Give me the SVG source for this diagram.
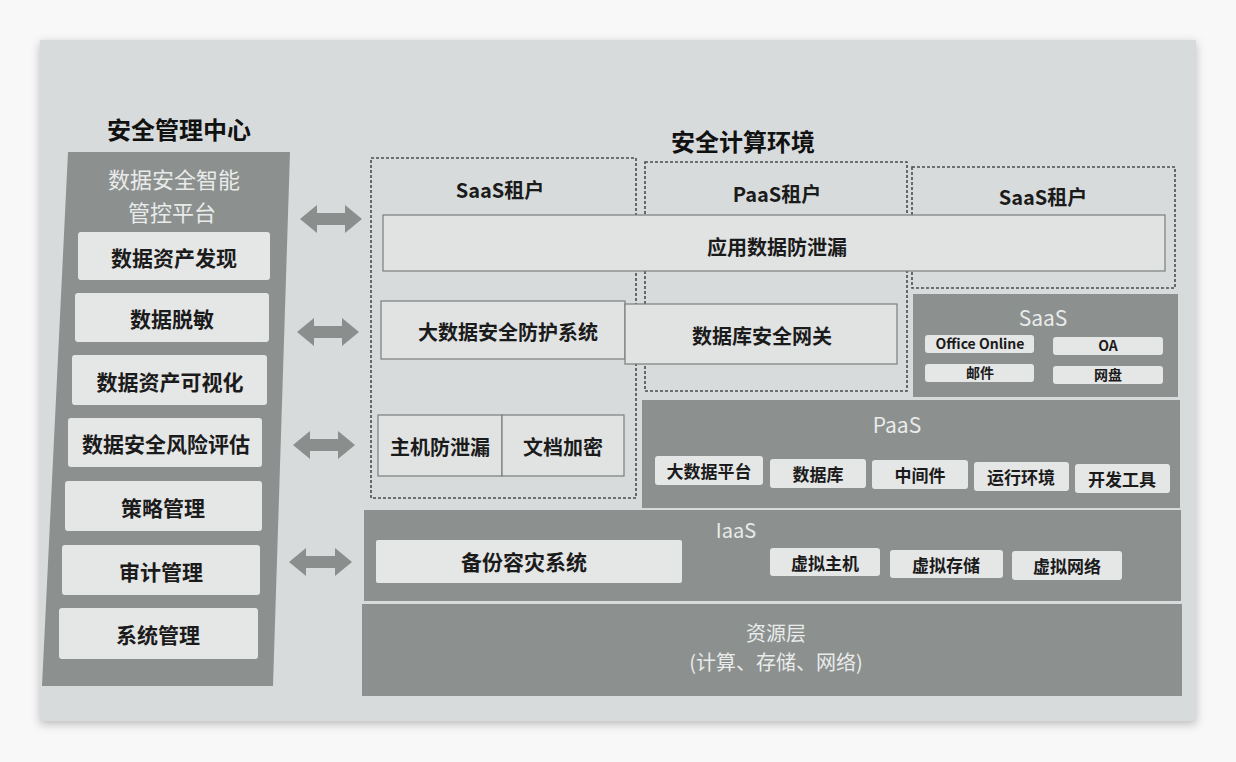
<svg xmlns="http://www.w3.org/2000/svg" width="1236" height="762" viewBox="0 0 1236 762">
<style>
  .cjk { font-family: "Noto Sans CJK SC", "Noto Sans", "Liberation Sans", sans-serif; }
  .title { font-size: 24px; font-weight: 700; fill: #111; text-anchor: middle; }
  .lbl { font-weight: 700; fill: #1b1b1b; text-anchor: middle; dominant-baseline: central; }
  .light { font-weight: 400; fill: #e9ebea; text-anchor: middle; dominant-baseline: central; }
  .panel { fill: #8c918f; }
  .item { fill: #e5e6e6; }
  .box { fill: #e1e3e3; stroke: #7a7d7c; stroke-width: 1.2; }
  .dash { fill: none; stroke: #4a4d4c; stroke-width: 1.6; stroke-dasharray: 3 2; }
  .arrow { fill: #8a8f8d; }
</style>
<defs>
  <filter id="sh" x="-5%" y="-5%" width="110%" height="110%">
    <feDropShadow dx="0" dy="3" stdDeviation="5" flood-color="#000" flood-opacity="0.25"/>
  </filter>
</defs>
<rect x="0" y="0" width="1236" height="762" fill="#f8f8f8"/>
<rect x="40" y="40" width="1156" height="681" fill="#d8dbdc" filter="url(#sh)"/>

<g id="titles" class="cjk">
  <text class="title" x="179" y="139">安全管理中心</text>
  <text class="title" x="743" y="151">安全计算环境</text>
</g>

<g id="mgmt-center" class="cjk">
  <polygon class="panel" points="68,152 290,152 273,686 42,686"/>
  <text class="light" x="174" y="178" font-size="22">数据安全智能</text>
  <text class="light" x="172" y="211" font-size="22">管控平台</text>
</g>
<g id="n-zcfx" class="cjk"><rect class="item" x="78" y="232" width="192" height="48" rx="3"/><text class="lbl" x="174" y="257" font-size="21">数据资产发现</text></g>
<g id="n-tm" class="cjk"><rect class="item" x="75" y="293" width="194" height="49" rx="3"/><text class="lbl" x="172" y="318" font-size="21">数据脱敏</text></g>
<g id="n-kshh" class="cjk"><rect class="item" x="72" y="355" width="195" height="50" rx="3"/><text class="lbl" x="170" y="381" font-size="21">数据资产可视化</text></g>
<g id="n-fxpg" class="cjk"><rect class="item" x="68" y="418" width="194" height="49" rx="3"/><text class="lbl" x="166" y="443" font-size="21">数据安全风险评估</text></g>
<g id="n-cl" class="cjk"><rect class="item" x="65" y="481" width="197" height="50" rx="3"/><text class="lbl" x="163" y="507" font-size="21">策略管理</text></g>
<g id="n-sj" class="cjk"><rect class="item" x="62" y="545" width="198" height="50" rx="3"/><text class="lbl" x="161" y="571" font-size="21">审计管理</text></g>
<g id="n-xt" class="cjk"><rect class="item" x="59" y="608" width="199" height="51" rx="3"/><text class="lbl" x="158" y="634" font-size="21">系统管理</text></g>

<g id="connectors">
  <path class="arrow" d="M300,219 L317,205 L317,213 L345,213 L345,205 L362,219 L345,233 L345,225 L317,225 L317,233 Z"/>
  <path class="arrow" d="M297,332 L314,318 L314,326 L342,326 L342,318 L359,332 L342,346 L342,338 L314,338 L314,346 Z"/>
  <path class="arrow" d="M293,445 L310,431 L310,439 L338,439 L338,431 L355,445 L338,459 L338,451 L310,451 L310,459 Z"/>
  <path class="arrow" d="M289,562 L306,548 L306,556 L335,556 L335,548 L352,562 L335,576 L335,568 L306,568 L306,576 Z"/>
</g>

<g id="tenant-saas-left" class="cjk">
  <rect class="dash" x="371" y="158" width="265" height="340"/>
  <text class="lbl" x="500" y="189" font-size="20">SaaS租户</text>
</g>
<g id="tenant-paas" class="cjk">
  <rect class="dash" x="645" y="162" width="262" height="229"/>
  <text class="lbl" x="777" y="193" font-size="20">PaaS租户</text>
</g>
<g id="tenant-saas-right" class="cjk">
  <rect class="dash" x="912" y="167" width="263" height="121"/>
  <text class="lbl" x="1043" y="196" font-size="20">SaaS租户</text>
</g>

<g id="n-yysjfxl" class="cjk"><rect class="box" x="383" y="215" width="782" height="56"/><text class="lbl" x="777" y="246" font-size="20">应用数据防泄漏</text></g>
<g id="n-dsjaq" class="cjk"><rect class="box" x="381" y="301" width="244" height="58"/><text class="lbl" x="508" y="331" font-size="20">大数据安全防护系统</text></g>
<g id="n-sjkwg" class="cjk"><rect class="box" x="625" y="304" width="272" height="60"/><text class="lbl" x="762" y="335" font-size="20">数据库安全网关</text></g>
<g id="n-zjfxl" class="cjk"><rect class="box" x="378" y="415" width="124" height="61"/><text class="lbl" x="440" y="446" font-size="20">主机防泄漏</text></g>
<g id="n-wdjm" class="cjk"><rect class="box" x="502" y="415" width="122" height="61"/><text class="lbl" x="563" y="446" font-size="20">文档加密</text></g>

<g id="layer-saas" class="cjk">
  <rect class="panel" x="913" y="294" width="265" height="103"/>
  <text class="light" x="1043" y="317" font-size="21">SaaS</text>
  <rect class="item" x="925" y="335" width="109" height="18" rx="3"/><text class="lbl" x="980" y="343" font-size="14">Office Online</text>
  <rect class="item" x="1053" y="337" width="110" height="18" rx="3"/><text class="lbl" x="1108" y="345" font-size="14">OA</text>
  <rect class="item" x="925" y="364" width="109" height="18" rx="3"/><text class="lbl" x="980" y="372" font-size="14">邮件</text>
  <rect class="item" x="1053" y="366" width="110" height="18" rx="3"/><text class="lbl" x="1108" y="374" font-size="14">网盘</text>
</g>

<g id="layer-paas" class="cjk">
  <rect class="panel" x="642" y="400" width="538" height="108"/>
  <text class="light" x="897" y="424" font-size="21">PaaS</text>
  <rect class="item" x="655" y="456" width="108" height="29" rx="3"/><text class="lbl" x="709" y="470" font-size="17">大数据平台</text>
  <rect class="item" x="770" y="459" width="96" height="29" rx="3"/><text class="lbl" x="818" y="473" font-size="17">数据库</text>
  <rect class="item" x="872" y="460" width="96" height="29" rx="3"/><text class="lbl" x="920" y="474" font-size="17">中间件</text>
  <rect class="item" x="974" y="462" width="95" height="29" rx="3"/><text class="lbl" x="1021" y="476" font-size="17">运行环境</text>
  <rect class="item" x="1075" y="464" width="95" height="29" rx="3"/><text class="lbl" x="1122" y="478" font-size="17">开发工具</text>
</g>

<g id="layer-iaas" class="cjk">
  <rect class="panel" x="364" y="510" width="817" height="91"/>
  <text class="light" x="736" y="529" font-size="20">IaaS</text>
  <rect class="item" x="376" y="540" width="306" height="43" rx="2"/><text class="lbl" x="524" y="561" font-size="21">备份容灾系统</text>
  <rect class="item" x="770" y="548" width="110" height="28" rx="3"/><text class="lbl" x="825" y="562" font-size="17">虚拟主机</text>
  <rect class="item" x="890" y="550" width="113" height="28" rx="3"/><text class="lbl" x="946" y="564" font-size="17">虚拟存储</text>
  <rect class="item" x="1012" y="551" width="110" height="29" rx="3"/><text class="lbl" x="1067" y="565" font-size="17">虚拟网络</text>
</g>

<g id="layer-resource" class="cjk">
  <rect class="panel" x="362" y="604" width="820" height="92"/>
  <text class="light" x="776" y="632" font-size="20">资源层</text>
  <text class="light" x="776" y="661" font-size="20">(计算、存储、网络)</text>
</g>
</svg>
